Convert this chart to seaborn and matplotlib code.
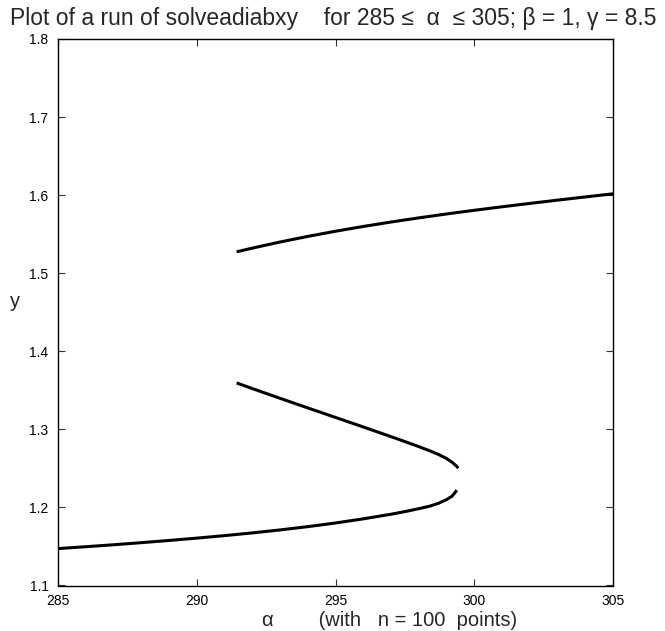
import numpy as np
import pandas as pd
import matplotlib
matplotlib.use("Agg")
import matplotlib.pyplot as plt
import seaborn as sns

# Data
upper_alpha = [291.43, 292, 293, 294, 295, 296, 297, 298, 299, 300, 301, 302, 303, 304, 305]
upper_y = [1.5274, 1.5322, 1.5400, 1.5472, 1.5538, 1.5599, 1.5656, 1.5709, 1.5759,
           1.5806, 1.5851, 1.5894, 1.5936, 1.5977, 1.6017]

middle_alpha = [291.43, 292, 293, 294, 295, 296, 297, 297.5, 298, 298.4, 298.7, 299, 299.2, 299.35, 299.42]
middle_y = [1.3595, 1.3522, 1.3397, 1.3274, 1.3152, 1.3030, 1.2906, 1.2843, 1.2779,
            1.2724, 1.2680, 1.2626, 1.2578, 1.2532, 1.2503]

lower_alpha = [285, 286, 287, 288, 289, 290, 291, 292, 293, 294, 295, 296, 297, 297.5,
               298, 298.4, 298.7, 299.0, 299.2, 299.37]
lower_y = [1.1473, 1.1497, 1.1522, 1.1549, 1.1577, 1.1607, 1.1639, 1.1674, 1.1712,
           1.1754, 1.1801, 1.1854, 1.1913, 1.1947, 1.1984, 1.2017, 1.2052, 1.2100,
           1.2145, 1.2220]

x_ticks = [285, 290, 295, 300, 305]
y_ticks = [1.1, 1.2, 1.3, 1.4, 1.5, 1.6, 1.7, 1.8]
y_tick_labels = ["1.1", "1.2", "1.3", "1.4", "1.5", "1.6", "1.7", "1.8"]

title = "Plot of a run of solveadiabxy    for 285 \u2264  \u03b1  \u2264 305; \u03b2 = 1, \u03b3 = 8.5"
xlabel = "\u03b1        (with   n = 100  points)"
ylabel = "y"

frames = []
for name, a, v in [("upper", upper_alpha, upper_y),
                   ("middle", middle_alpha, middle_y),
                   ("lower", lower_alpha, lower_y)]:
    frames.append(pd.DataFrame({"alpha": a, "y": v, "branch": name}))
df = pd.concat(frames, ignore_index=True)

sns.set_style("ticks")
plt.rcParams["font.family"] = ["Liberation Sans", "DejaVu Sans"]
plt.rcParams["xtick.direction"] = "in"
plt.rcParams["ytick.direction"] = "in"

W, H = 665, 631
fig = plt.figure(figsize=(W / 100, H / 100), dpi=100)
ax = fig.add_axes([58.3 / W, 1 - 585.5 / H, (613.0 - 58.3) / W, (585.5 - 39.0) / H])

sns.lineplot(data=df, x="alpha", y="y", units="branch", estimator=None,
             sort=False, color="black", linewidth=2.2, ax=ax, legend=False)
for line in ax.lines:
    line.set_solid_joinstyle("round")
    line.set_solid_capstyle("butt")

ax.set_xlim(285, 305)
ax.set_ylim(1.1, 1.8)
ax.set_xticks(x_ticks)
ax.set_xticklabels([str(t) for t in x_ticks])
ax.set_yticks(y_ticks)
ax.set_yticklabels(y_tick_labels)
ax.tick_params(axis="both", which="both", direction="in", length=5, width=0.8,
               top=True, right=True, labelsize=10, colors="#333333",
               labelcolor="black")
ax.tick_params(axis="x", pad=6)
ax.tick_params(axis="y", pad=7)
for s in ax.spines.values():
    s.set_visible(True)
    s.set_linewidth(1.0)
    s.set_color("black")

ax.set_xlabel("")
ax.set_ylabel("")
fig.text(262 / W, 1 - 621 / H, xlabel, fontsize=14.5, ha="left", va="center")
fig.text(15 / W, 1 - 302 / H, ylabel, fontsize=14.5, ha="center", va="center")
fig.text(333 / W, 1 - 25 / H, title, fontsize=16.5, ha="center", va="baseline")

fig.savefig("out.png", dpi=100)
